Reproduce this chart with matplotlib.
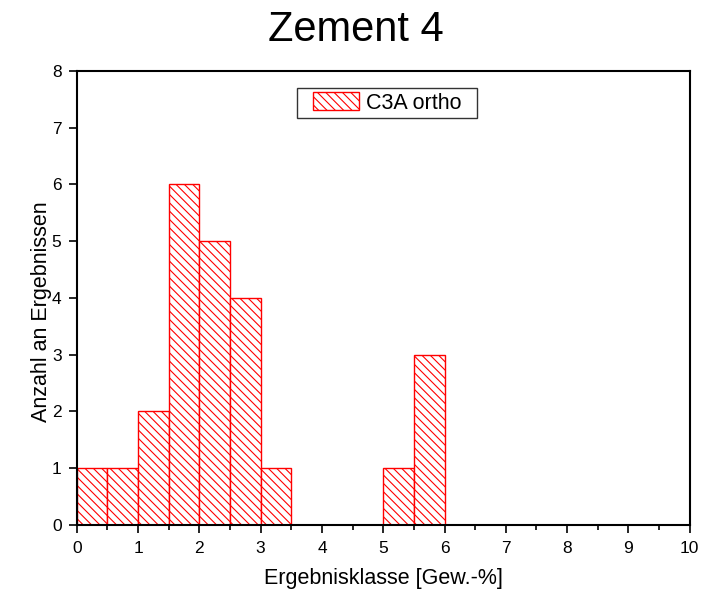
import matplotlib
matplotlib.use("Agg")
import matplotlib.pyplot as plt
from matplotlib.path import Path
from matplotlib.ticker import MultipleLocator

# histogram data: bin left edges and counts (bin width 0.5)
bin_left = [0.0, 0.5, 1.0, 1.5, 2.0, 2.5, 3.0, 5.0, 5.5]
counts = [1, 1, 2, 6, 5, 4, 1, 1, 3]
bin_width = 0.5

plt.rcParams["font.family"] = ["Liberation Sans", "DejaVu Sans"]
plt.rcParams["hatch.color"] = "red"
plt.rcParams["hatch.linewidth"] = 0.8


def legend_box(x0, y0, width, height, mutation_size):
    # wider than tall padding, like the original legend frame
    px, half_h = 16, 15
    cy = y0 + height / 2
    x1 = x0 + width
    verts = [(x0 - px, cy - half_h), (x1 + px, cy - half_h), (x1 + px, cy + half_h),
             (x0 - px, cy + half_h), (x0 - px, cy - half_h)]
    return Path(verts, closed=True)


fig = plt.figure(figsize=(7.11, 5.97), dpi=100)
ax = fig.add_axes([0.108, 0.121, 0.862, 0.760])

ax.bar(bin_left, counts, width=bin_width, align="edge",
       facecolor="white", edgecolor="red", linewidth=1.0,
       hatch="\\\\\\\\", label="C3A ortho")

ax.set_xlim(0, 10)
ax.set_ylim(0, 8)
ax.xaxis.set_major_locator(MultipleLocator(1))
ax.xaxis.set_minor_locator(MultipleLocator(0.5))
ax.yaxis.set_major_locator(MultipleLocator(1))
ax.tick_params(axis="both", which="major", direction="out", length=6, width=1.2, labelsize=12.5)
ax.tick_params(axis="x", which="major", pad=6)
ax.tick_params(axis="y", which="major", pad=5)
ax.tick_params(axis="x", which="minor", direction="out", length=3.5, width=1.2)
for s in ax.spines.values():
    s.set_linewidth(1.5)

ax.set_xlabel("Ergebnisklasse [Gew.-%]", fontsize=15.5, labelpad=8)
ax.set_ylabel("Anzahl an Ergebnissen", fontsize=15.5)
ax.yaxis.set_label_coords(-0.041, 0.469)
fig.text(0.5, 0.950, "Zement 4", fontsize=30, ha="center", va="center")

leg = ax.legend(loc="center", bbox_to_anchor=(0.506, 0.9295), borderaxespad=0,
                fontsize=15.5, frameon=True, fancybox=False, shadow=False,
                handlelength=2.15, handleheight=0.88, handletextpad=0.3,
                borderpad=0)
leg.get_frame().set_boxstyle(legend_box)
leg.get_frame().set_edgecolor("black")
leg.get_frame().set_linewidth(1.0)

fig.savefig("out.png", dpi=100)
